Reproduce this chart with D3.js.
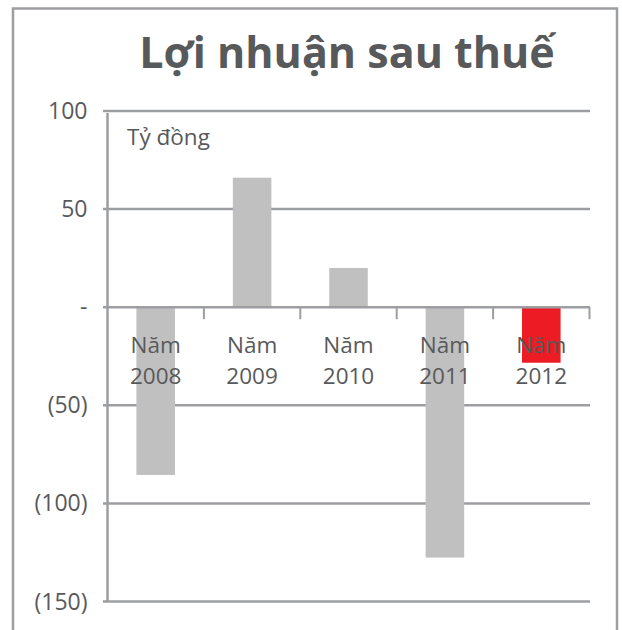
<!DOCTYPE html>
<html>
<head>
<meta charset="utf-8">
<script src="https://cdn.jsdelivr.net/npm/d3@7"></script>
<style>
  html, body { margin: 0; padding: 0; background: #fff; }
  svg { display: block; }
  text { font-family: "Open Sans", "Noto Sans", sans-serif; fill: #58595b; }
</style>
</head>
<body>
<script>
const categories = ["Năm 2008", "Năm 2009", "Năm 2010", "Năm 2011", "Năm 2012"];
const values = [-85.5, 66, 20, -127.6, -28.3];
const barColors = ["#c0c0c0", "#c0c0c0", "#c0c0c0", "#c0c0c0", "#ed1c24"];
const yTicks = [100, 50, 0, -50, -100, -150];
const yTickLabels = ["100", "50", "-", "(50)", "(100)", "(150)"];
const titleText = "Lợi nhuận sau thuế";
const unitText = "Tỷ đồng";

const W = 622, H = 630;
const svg = d3.select("body").append("svg").attr("width", W).attr("height", H);

const x = d3.scaleBand().domain(categories).range([107.5, 589.5]).paddingInner(0.6).paddingOuter(0.3);
const xb = d3.scaleBand().domain(categories).range([107.5, 589.5]);
const y = d3.scaleLinear().domain([-150, 100]).range([601.5, 111]);

const grid = "#9d9ea1";

// frame
svg.append("rect").attr("x", 13).attr("y", 8.5).attr("width", 604).attr("height", 640)
  .attr("fill", "none").attr("stroke", grid).attr("stroke-width", 2.5);

// title
svg.append("text").attr("x", 347).attr("y", 68).attr("text-anchor", "middle")
  .attr("font-size", 43).attr("font-weight", "bold").text(titleText);

// gridlines
svg.append("g").selectAll("line").data(yTicks.filter(d => d !== 0)).join("line")
  .attr("x1", 103).attr("x2", 590).attr("y1", d => y(d)).attr("y2", d => y(d))
  .attr("stroke", grid).attr("stroke-width", 2.5);

// y tick labels
svg.append("g").selectAll("text").data(yTicks).join("text")
  .attr("x", 87.5).attr("y", d => y(d)).attr("dy", "0.35em").attr("text-anchor", "end")
  .attr("font-size", 23).text((d, i) => yTickLabels[i]);

// unit
svg.append("text").attr("x", 127).attr("y", 145).attr("font-size", 22.5).text(unitText);

// bars
svg.append("g").selectAll("rect").data(values).join("rect")
  .attr("x", (d, i) => x(categories[i]))
  .attr("width", x.bandwidth())
  .attr("y", d => y(Math.max(0, d)))
  .attr("height", d => Math.abs(y(d) - y(0)))
  .attr("fill", (d, i) => barColors[i]);

// left axis line
svg.append("line").attr("x1", 107.5).attr("x2", 107.5).attr("y1", 113).attr("y2", 601)
  .attr("stroke", grid).attr("stroke-width", 2.5);

// zero axis line
svg.append("line").attr("x1", 103).attr("x2", 590).attr("y1", y(0)).attr("y2", y(0))
  .attr("stroke", grid).attr("stroke-width", 2.5);

// x ticks at band boundaries
const bounds = categories.map(c => xb(c)).concat([xb.range()[1]]).slice(1);
svg.append("g").selectAll("line").data(bounds).join("line")
  .attr("x1", d => d).attr("x2", d => d).attr("y1", y(0)).attr("y2", y(0) + 12)
  .attr("stroke", grid).attr("stroke-width", 2);

// category labels
const lab = svg.append("g").selectAll("text").data(categories).join("text")
  .attr("text-anchor", "middle").attr("font-size", 22.5)
  .attr("transform", c => `translate(${xb(c) + xb.bandwidth() / 2},0)`);
lab.append("tspan").attr("x", 0).attr("y", 353).text(c => c.split(" ")[0]);
lab.append("tspan").attr("x", 0).attr("y", 384).text(c => c.split(" ")[1]);
</script>
</body>
</html>
